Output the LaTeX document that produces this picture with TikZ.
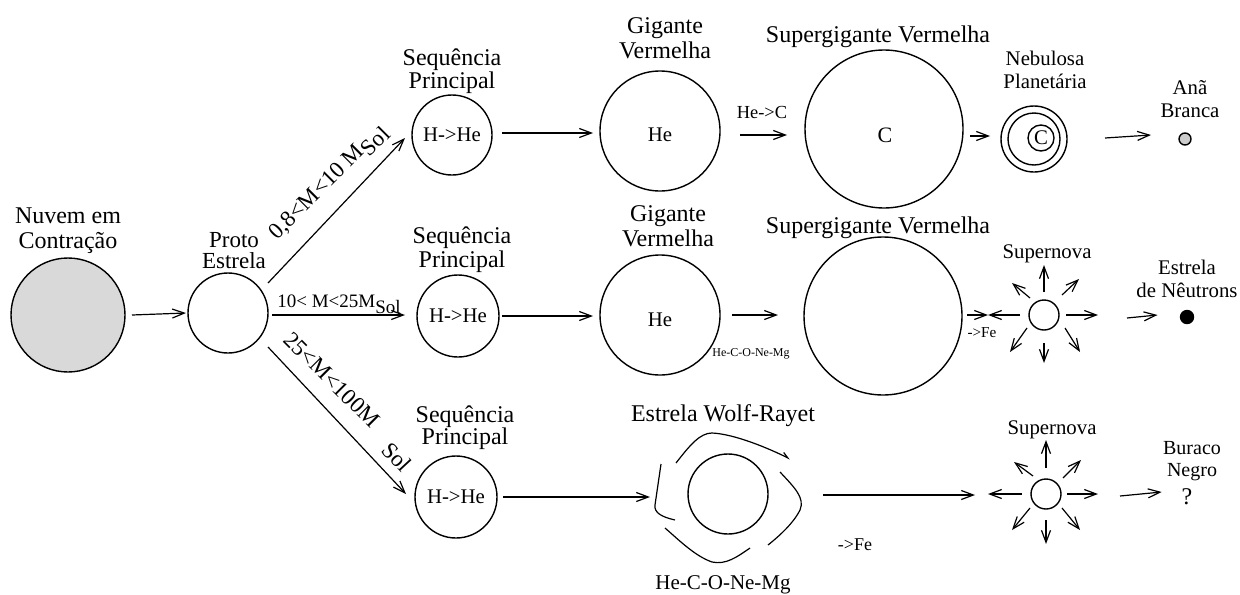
\documentclass[tikz,border=0pt]{standalone}
\usepackage{fontspec}
\setmainfont{Liberation Serif}
\usetikzlibrary{arrows.meta,calc}
\begin{document}
\begin{tikzpicture}[x=0.5pt,y=-0.5pt,
  every node/.style={inner sep=0pt,outer sep=0pt},
  star/.style={circle,draw,line width=0.7pt},
  lbl/.style={align=center,font=\fontsize{12}{12.5}\selectfont},
  slbl/.style={align=center,font=\fontsize{10.4}{11.5}\selectfont},
  inner/.style={font=\fontsize{10.4}{12}\selectfont},
  diag/.style={font=\fontsize{11.5}{12}\selectfont},
  arr/.style={line width=0.6pt,-{Straight Barb[length=6pt,width=4.5pt]}},
  swirl/.style={line width=0.6pt},
  line width=0.6pt]
\useasboundingbox (0,0) rectangle (1240,594);

% ---- left part
\node[star,fill=gray!30,minimum size=57pt] (nuvem) at (68,315) {};
\node[lbl] (nuvemL) at (68,231) {Nuvem em\\Contração};
\node[star,minimum size=40pt] (proto) at (228,313) {};
\node[lbl,font=\fontsize{11.5}{10.5}\selectfont] (protoL) at (234,251) {Proto\\Estrela};
\draw[arr] ($(nuvem.east)+(7,0)$) -- ($(proto.west)+(-2,0)$);

% ---- main sequence stars
\node[star,minimum size=40pt,inner] (sp1) at (452,135) {H->He};
\node[star,minimum size=41pt,inner] (sp2) at (458,316) {H->He};
\node[star,minimum size=41pt,inner] (sp3) at (456,497) {H->He};
\node[lbl,font=\fontsize{12}{11.5}\selectfont] at (452,71) {Sequência\\Principal};
\node[lbl,font=\fontsize{12}{12}\selectfont] at (462,250) {Sequência\\Principal};
\node[lbl,font=\fontsize{12}{11}\selectfont] at (465,428) {Sequência\\Principal};

\draw[arr] ($(proto)+(40,-30)$) -- ($(sp1.west)+(-7,3)$);
\draw[arr] ($(proto.east)+(4,2)$) -- ($(sp2.west)+(-12,-1)$);
\draw[arr] ($(proto)+(40,34)$) -- ($(sp3.west)+(-9,-3)$);
\node[diag,rotate=45] at (329,183) {0,8<M<10 M\raisebox{-0.3em}{Sol}};
\node[font=\fontsize{9.5}{10}\selectfont] at (339,304) {10< M<25M\raisebox{-0.3em}{Sol}};
\node[diag,rotate=-45] at (332,380) {25<M<100M};
\node[diag,rotate=-47] at (397,457) {Sol};

% ---- top row
\node[star,minimum size=60pt] (gig1) at (660,131) {};
\node[inner] at ($(gig1)+(0,4)$) {He};
\node[lbl] at (665,38) {Gigante\\Vermelha};
\node[star,minimum size=79pt] (sg1) at (884,129) {};
\node[font=\fontsize{11}{12}\selectfont] at ($(sg1)+(1,6)$) {C};
\node[lbl] at (878,37) {Supergigante Vermelha};
\node[star,minimum size=33pt] (neb) at (1034,139) {};
\node[star,minimum size=26pt] (nebi) at (neb) {};
\node[star,minimum size=13pt,font=\fontsize{10.4}{12}\selectfont] (nebc) at (1041,138) {C};
\node[slbl] at (1045,70) {Nebulosa\\Planetária};
\node[star,fill=gray!40,minimum size=6pt] (wd) at (1185,139) {};
\node[slbl] at (1190,99) {Anã\\Branca};

\draw[arr] ($(sp1.east)+(10,-2)$) -- ($(gig1.west)+(-7,2)$);
\draw[arr] ($(gig1.east)+(20,4)$) -- ($(sg1.west)+(-18,6)$);
\node[font=\fontsize{9.2}{10}\selectfont] at (762,112) {He->C};
\draw[arr] ($(sg1.east)+(7,7)$) -- ($(neb.west)+(-11,-3)$);
\draw[arr] ($(neb.east)+(38,-1)$) -- ($(wd.west)+(-28,-4)$);

% ---- middle row
\node[star,minimum size=60pt] (gig2) at (660,315) {};
\node[inner] at ($(gig2)+(0,5)$) {He};
\node[lbl] at (668,226) {Gigante\\Vermelha};
\node[star,minimum size=79pt] (sg2) at (883,316) {};
\node[lbl] at (878,228) {Supergigante Vermelha};
\node[star,minimum size=15pt] (sn2) at (1044,315) {};
\node[slbl] at (1047,254) {Supernova};
\node[star,fill=black,minimum size=6.5pt] (ns) at (1187,317) {};
\node[slbl] at (1187,279) {Estrela\\de Nêutrons};

\draw[arr] ($(sp2.east)+(3,0)$) -- ($(gig2.west)+(-7,1)$);
\draw[arr] ($(gig2.east)+(12,0)$) -- ($(sg2.west)+(-26,-1)$);
\node[font=\fontsize{6}{7}\selectfont] at (751,354) {He-C-O-Ne-Mg};
\draw[arr] ($(sg2.east)+(5,-1)$) -- ($(sn2)+(-56,0)$);
\node[font=\fontsize{7.6}{8}\selectfont] at (982,333) {->Fe};
\foreach \a/\b/\c/\d in {0/-23/0/-50, 18/-20/35/-36, -14/-17/-32/-32, 22/0/54/0,
  -24/0/-56/0, 0/28/0/48, -17/13/-34/37, 21/13/36/37}
  \draw[arr] ($(sn2)+(\a,\b)$) -- ($(sn2)+(\c,\d)$);
\draw[arr] ($(sn2.east)+(68,3)$) -- ($(ns.west)+(-23,-2)$);

% ---- bottom row
\node[star,minimum size=40pt] (wr) at (728,494) {};
\node[lbl] at (723,416) {Estrela Wolf-Rayet};
\node[font=\fontsize{10.5}{11}\selectfont] at (723,585) {He-C-O-Ne-Mg};
\draw[swirl] (661,464) -- (655,505) .. controls (654,513) and (662,517) .. (675,520);
\draw[swirl,-{Straight Barb[length=3pt,width=3pt,left]}] (676,463) .. controls (690,445) and (700,433) .. (712,433) .. controls (735,434) and (770,449) .. (790,459);
\draw[swirl] (780,472) .. controls (795,488) and (805,498) .. (800,510) .. controls (793,524) and (778,537) .. (768,545);
\draw[swirl] (750,548) .. controls (737,557) and (726,565) .. (712,562) .. controls (695,556) and (680,541) .. (665,528);
\node[star,minimum size=15pt] (sn3) at (1046,494) {};
\node[slbl] at (1052,430) {Supernova};
\node[font=\fontsize{12}{12}\selectfont] (bh) at (1187,497) {?};
\node[slbl,font=\fontsize{10}{11}\selectfont] at (1192,461) {Buraco\\Negro};

\draw[arr] ($(sp3.east)+(6,0)$) -- ($(wr.west)+(-38,3)$);
\draw[arr] ($(wr.east)+(55,1)$) -- ($(sn3)+(-71,1)$);
\node[font=\fontsize{9}{10}\selectfont] at (855,545) {->Fe};
\foreach \a/\b/\c/\d in {0/-26/0/-54, -13/-18/-32/-32, 17/-16/35/-34, -24/0/-58/0,
  21/0/52/0, 0/26/0/50, -16/14/-34/36, 16/14/34/36}
  \draw[arr] ($(sn3)+(\a,\b)$) -- ($(sn3)+(\c,\d)$);
\draw[arr] ($(sn3.east)+(59,2)$) -- ($(bh.west)+(-20,-5)$);
\end{tikzpicture}
\end{document}
